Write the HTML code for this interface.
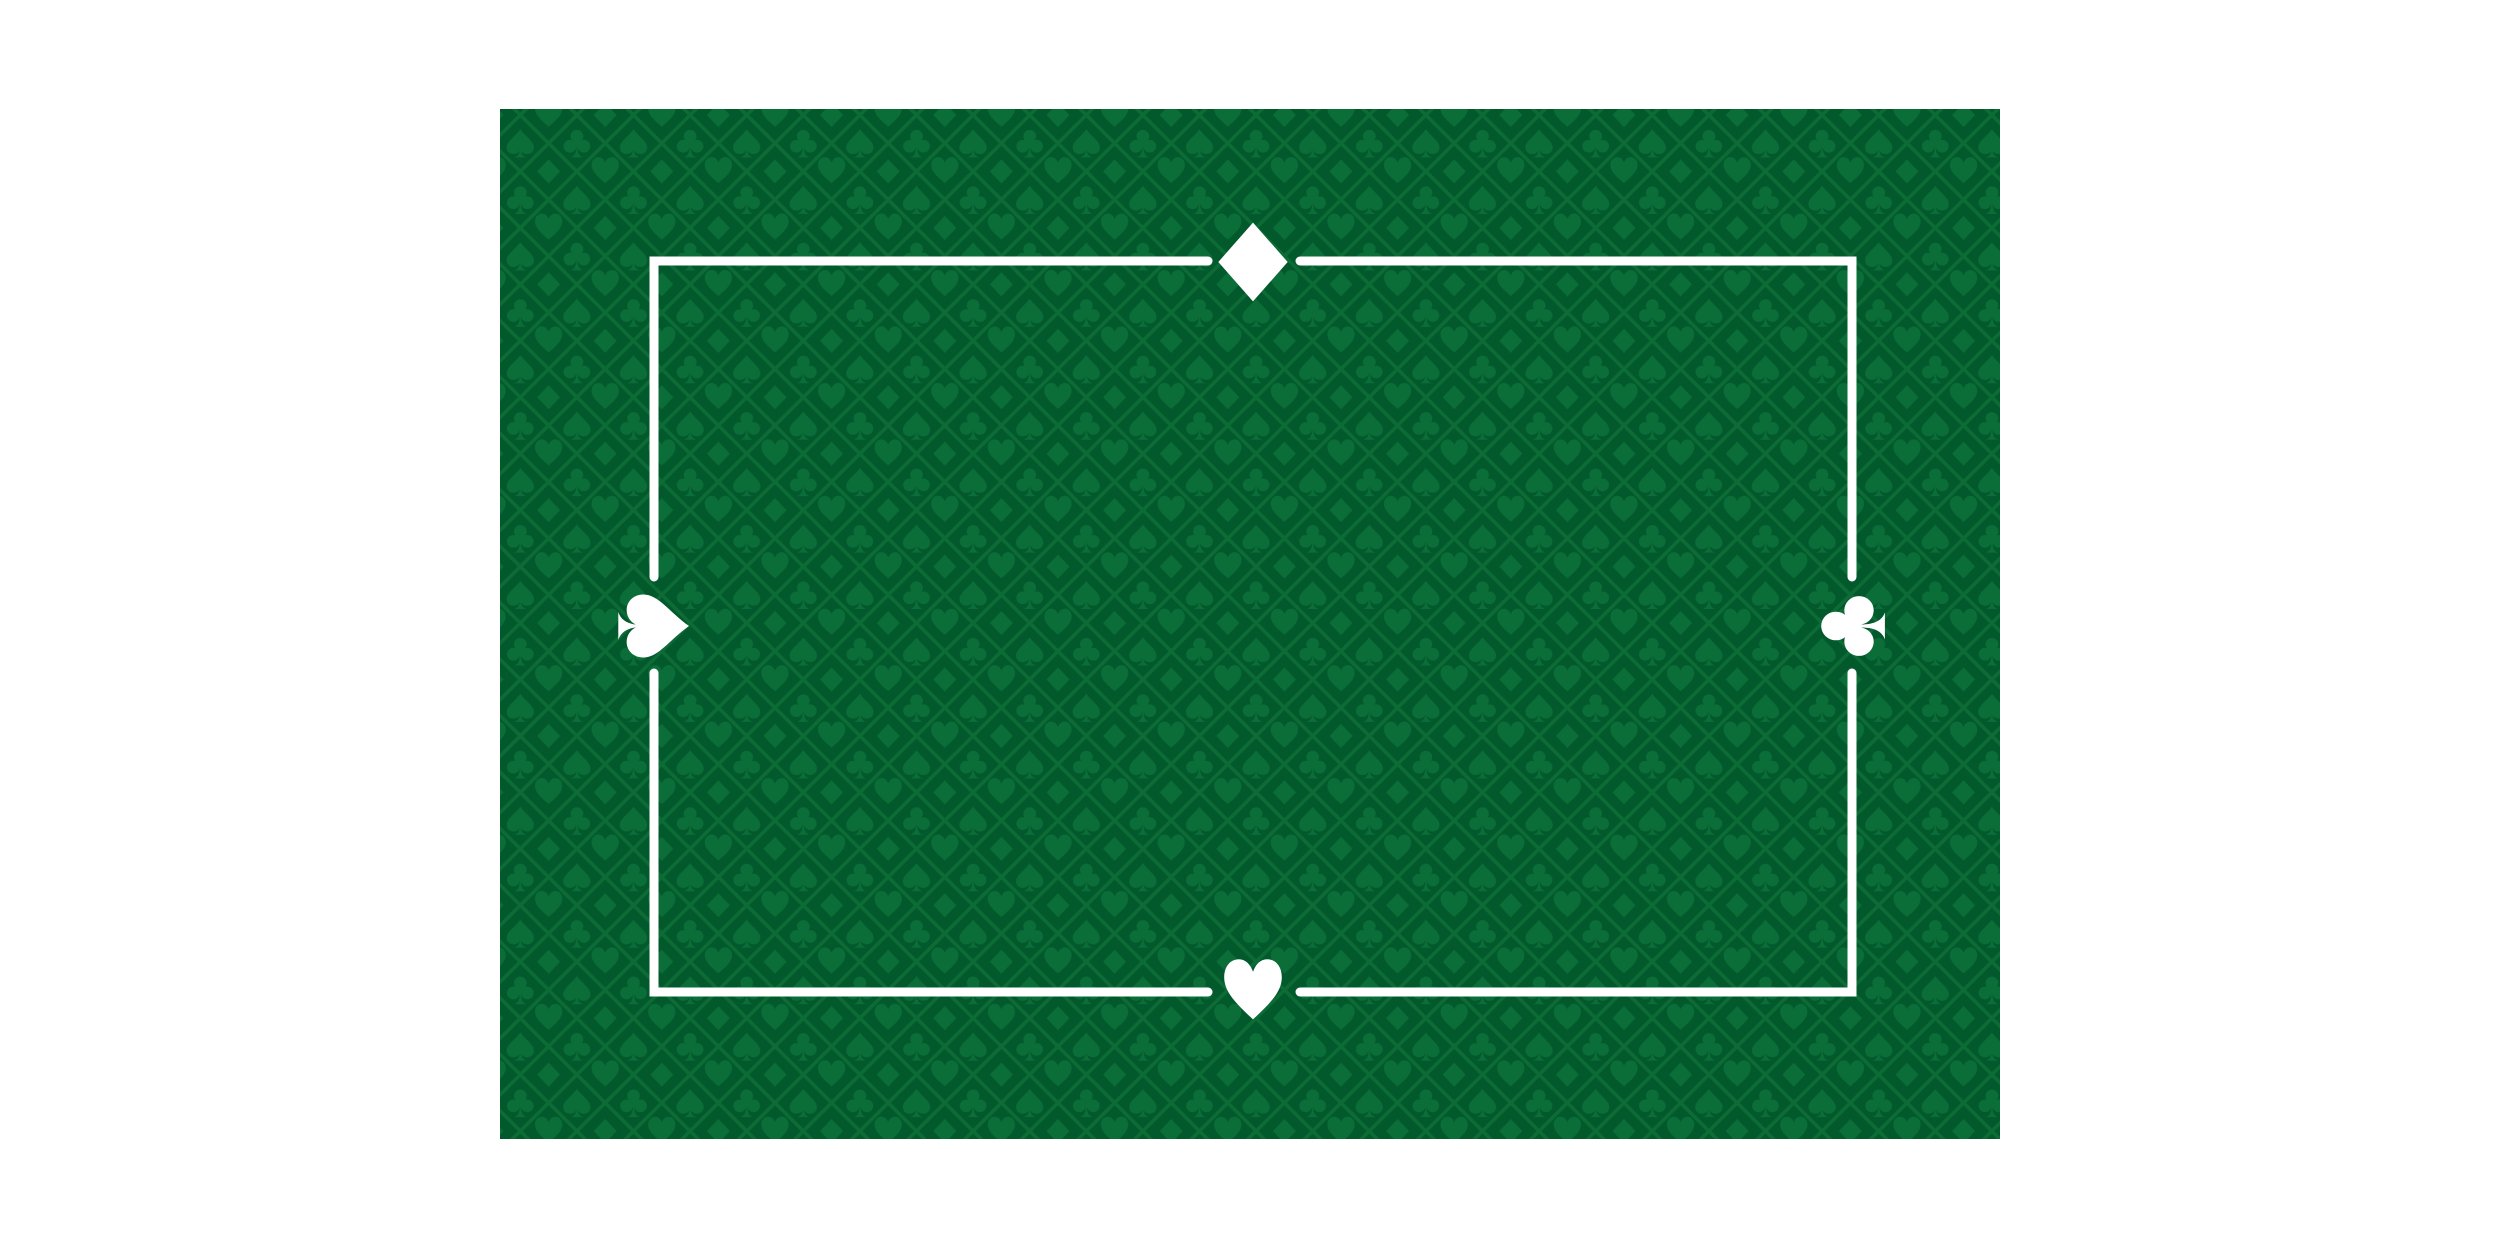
<!DOCTYPE html>
<html><head><meta charset="utf-8"><style>html,body{margin:0;padding:0;background:#fff}svg{display:block}</style></head>
<body>
<svg width="2500" height="1250" viewBox="0 0 2500 1250">
<defs>
<path id="heart" d="M50,92 C22,68 5,52 5,32 C5,16 15,6 28,6 C38,6 46,13 50,24 C54,13 62,6 72,6 C85,6 95,16 95,32 C95,52 78,68 50,92Z"/>
<path id="spade" d="M50,4 C30,30 5,44 5,64 C5,77 15,86 27,86 C37,86 44,81 48,74 C46,87 40,94 30,97 L70,97 C60,94 54,87 52,74 C56,81 63,86 73,86 C85,86 95,77 95,64 C95,44 70,30 50,4Z"/>
<g id="club"><circle cx="50" cy="27" r="21"/><circle cx="27" cy="60" r="21"/><circle cx="73" cy="60" r="21"/><path d="M50,40 L47,74 C45,87 39,94 30,97 L70,97 C61,94 55,87 53,74 Z"/><circle cx="50" cy="52" r="12"/></g>
<path id="diamond" d="M50,2 L84,50 L50,98 L16,50Z"/>
<path id="sdiamond" d="M50,10 L88,50 L50,90 L12,50Z"/>
<pattern id="felt" patternUnits="userSpaceOnUse" width="112" height="112" x="486.8" y="114.1" patternTransform="scale(1.0107,1.008)">
<rect x="-1" y="-1" width="114" height="114" fill="#02592c"/>
<g stroke="#0d6b36" stroke-width="3.5">
<line x1="-28" y1="56" x2="56" y2="-28"/><line x1="-28" y1="112" x2="112" y2="-28"/><line x1="0" y1="140" x2="140" y2="0"/><line x1="56" y1="140" x2="140" y2="56"/>
<line x1="0" y1="-28" x2="140" y2="112"/><line x1="56" y1="-28" x2="140" y2="56"/><line x1="-28" y1="0" x2="112" y2="140"/><line x1="-28" y1="56" x2="56" y2="140"/>
</g>
<g fill="#0b6d38">
<use href="#spade" transform="translate(13,13) scale(0.3)"/>
<use href="#club" transform="translate(69,13) scale(0.3)"/>
<use href="#club" transform="translate(13,69) scale(0.3)"/>
<use href="#spade" transform="translate(69,69) scale(0.3)"/>
<use href="#sdiamond" transform="translate(41,41) scale(0.3)"/>
<use href="#heart" transform="translate(-15,40) scale(0.3)"/>
<use href="#heart" transform="translate(97,40) scale(0.3)"/>
<use href="#heart" transform="translate(41,-16) scale(0.3)"/>
<use href="#heart" transform="translate(41,96) scale(0.3)"/>
<use href="#sdiamond" transform="translate(-15,-15) scale(0.3)"/>
<use href="#sdiamond" transform="translate(97,-15) scale(0.3)"/>
<use href="#sdiamond" transform="translate(-15,97) scale(0.3)"/>
<use href="#sdiamond" transform="translate(97,97) scale(0.3)"/>
</g>
</pattern>
</defs>
<rect x="500" y="109" width="1500" height="1030" fill="url(#felt)"/>
<g fill="none" stroke="#fff" stroke-width="9" stroke-linecap="round" stroke-linejoin="miter">
<path d="M1208,261 H654 V577"/>
<path d="M1300,261 H1852 V577"/>
<path d="M654,673 V992 H1208"/>
<path d="M1852,673 V992 H1300"/>
</g>
<g fill="#fff">
<use href="#diamond" transform="translate(1202,221) scale(1.02,0.82)"/>
<use href="#heart" transform="translate(1221,955) scale(0.64,0.7)"/>
<use href="#spade" transform="translate(654,626) rotate(90) scale(0.7,0.76) translate(-50,-50)"/>
<use href="#club" transform="translate(1852,626) rotate(-90) scale(0.68,0.7) translate(-50,-50)"/>
</g>
</svg>
</body></html>
